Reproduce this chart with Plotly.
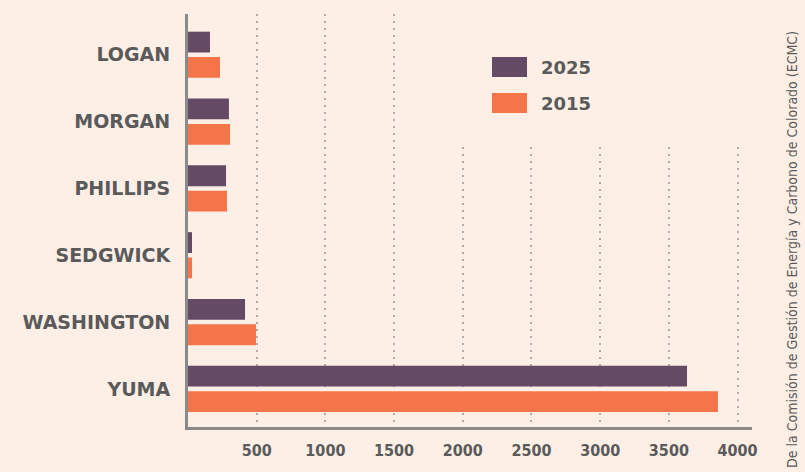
import plotly.graph_objects as go

counties = ["LOGAN", "MORGAN", "PHILLIPS", "SEDGWICK", "WASHINGTON", "YUMA"]
values_2025 = [160, 298, 277, 29, 415, 3632]
values_2015 = [233, 306, 284, 29, 495, 3857]
tick_values = [500, 1000, 1500, 2000, 2500, 3000, 3500, 4000]
tick_labels = ["500", "1000", "1500", "2000", "2500", "3000", "3500", "4000"]
source_text = "De la Comisión de Gestión de Energía y Carbono de Colorado (ECMC)"

BG = "#FDEEE6"
PURPLE = "#654A66"
ORANGE = "#F5754A"
TEXT = "#5A5A5A"
AXIS = "#8A8A8A"
COND = "Liberation Sans Narrow, DejaVu Sans Condensed, sans-serif"

W, H = 805, 472
L, R, T, B = 188, 53, 14, 45
pw, ph = W - L - R, H - T - B


def px_x(x):
    return (x - L) / pw


def px_y(y):
    return (H - B - y) / ph


fig = go.Figure()
fig.add_trace(go.Bar(y=counties, x=values_2025, orientation="h", name="2025",
                     marker=dict(color=PURPLE, line=dict(width=0))))
fig.add_trace(go.Bar(y=counties, x=values_2015, orientation="h", name="2015",
                     marker=dict(color=ORANGE, line=dict(width=0))))

shapes = [
    # background patch behind the legend that hides the gridlines
    dict(type="rect", xref="paper", yref="paper", x0=px_x(430), x1=px_x(748),
         y0=px_y(145), y1=px_y(12), fillcolor=BG, line=dict(width=0), layer="above"),
    dict(type="rect", xref="paper", yref="paper", x0=px_x(492), x1=px_x(527),
         y0=px_y(77), y1=px_y(57), fillcolor=PURPLE, line=dict(width=0), layer="above"),
    dict(type="rect", xref="paper", yref="paper", x0=px_x(492), x1=px_x(527),
         y0=px_y(113), y1=px_y(93), fillcolor=ORANGE, line=dict(width=0), layer="above"),
]

annotations = [
    dict(text="2025", xref="paper", yref="paper", x=px_x(539), y=px_y(67),
         xanchor="left", yanchor="middle", showarrow=False,
         font=dict(family="DejaVu Sans", size=18, color=TEXT, weight="bold")),
    dict(text="2015", xref="paper", yref="paper", x=px_x(539), y=px_y(103),
         xanchor="left", yanchor="middle", showarrow=False,
         font=dict(family="DejaVu Sans", size=18, color=TEXT, weight="bold")),
    dict(text=source_text, xref="paper", yref="paper", x=px_x(792), y=px_y(250),
         xanchor="center", yanchor="middle", textangle=-90, showarrow=False,
         font=dict(family=COND, size=14, color=TEXT)),
]

fig.update_layout(
    width=W, height=H,
    margin=dict(l=L, r=R, t=T, b=B, pad=0, autoexpand=False),
    paper_bgcolor=BG, plot_bgcolor=BG,
    barmode="group", bargap=0.24, bargroupgap=0.18,
    showlegend=False,
    shapes=shapes, annotations=annotations,
    xaxis=dict(range=[0, 4105], tickvals=tick_values, ticktext=tick_labels,
               showgrid=True, gridcolor="#B3ABA8", gridwidth=2, griddash="2px,5px",
               zeroline=False, showline=True, linecolor=AXIS, linewidth=3,
               automargin=False,
               ticks="outside", ticklen=7, tickcolor="rgba(0,0,0,0)",
               tickfont=dict(family=COND, size=16, color=TEXT, weight="bold")),
    yaxis=dict(categoryorder="array", categoryarray=counties,
               range=[5.57, -0.61], showgrid=False, zeroline=False,
               showline=True, linecolor=AXIS, linewidth=3, automargin=False,
               ticks="outside", ticklen=11, tickcolor="rgba(0,0,0,0)",
               tickfont=dict(family="DejaVu Sans", size=19, color=TEXT, weight="bold")),
)

fig.write_html("out.html", config={"displayModeBar": False},
               post_script="document.body.style.margin='0';document.body.style.overflow='hidden';")
